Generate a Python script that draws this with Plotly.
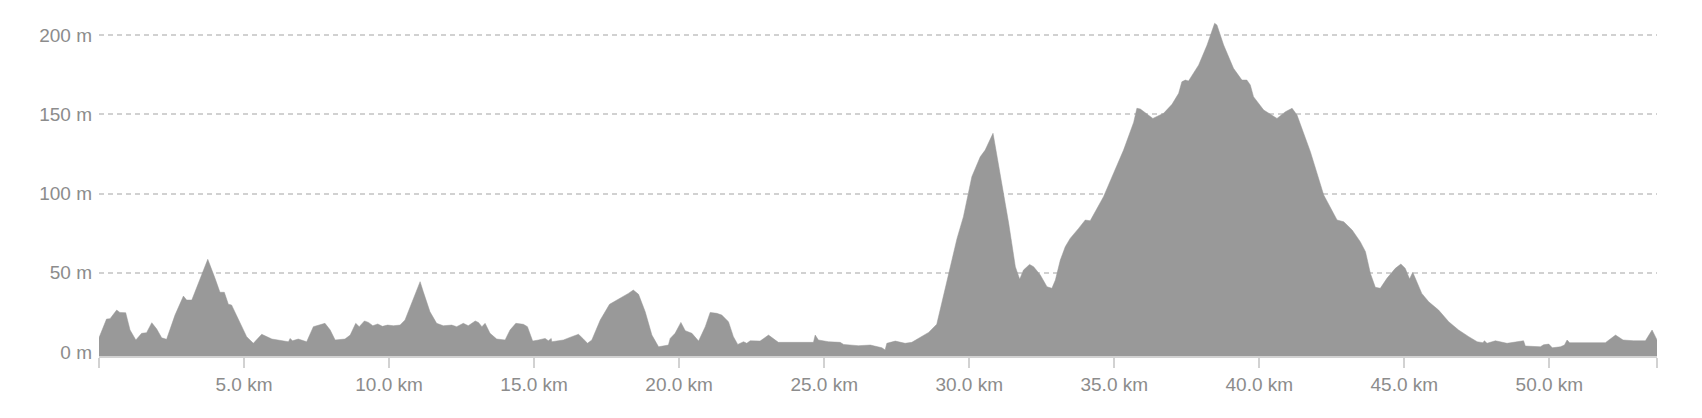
import plotly.graph_objects as go

# distance along route (km) and elevation (m)
distance_km = [
    0.00, 0.26, 0.38, 0.61, 0.72, 0.92, 1.07, 1.27, 1.47, 1.64, 1.82, 1.99, 2.16, 2.33,
    2.62, 2.91, 3.02, 3.20, 3.42, 3.75, 4.00, 4.17, 4.32, 4.46, 4.57, 4.80, 5.09, 5.32,
    5.61, 5.96, 6.41, 6.53, 6.59, 6.67, 6.87, 7.16, 7.39, 7.79, 7.97, 8.14, 8.48, 8.66,
    8.85, 8.97, 9.15, 9.29, 9.44, 9.61, 9.77, 9.95, 10.15, 10.38, 10.55, 10.78, 11.07,
    11.18, 11.41, 11.64, 11.87, 12.16, 12.33, 12.56, 12.73, 12.97, 13.08, 13.20, 13.31,
    13.48, 13.71, 14.00, 14.17, 14.37, 14.63, 14.77, 14.95, 15.15, 15.38, 15.49, 15.59,
    15.61, 16.01, 16.30, 16.53, 16.68, 16.84, 16.99, 17.28, 17.60, 17.97, 18.25, 18.42,
    18.60, 18.83, 19.06, 19.29, 19.46, 19.63, 19.69, 19.86, 20.06, 20.21, 20.44, 20.67,
    20.90, 21.07, 21.30, 21.47, 21.70, 21.87, 22.02, 22.22, 22.33, 22.45, 22.79, 23.08,
    23.42, 24.00, 24.63, 24.69, 24.80, 25.15, 25.55, 25.67, 26.18, 26.59, 26.99, 27.10,
    27.16, 27.45, 27.79, 28.02, 28.25, 28.60, 28.88, 29.11, 29.34, 29.58, 29.80, 30.09,
    30.38, 30.55, 30.82, 31.07, 31.36, 31.59, 31.74, 31.87, 32.08, 32.22, 32.45, 32.68,
    32.85, 32.97, 33.14, 33.31, 33.48, 33.77, 34.00, 34.17, 34.40, 34.63, 34.98, 35.32,
    35.67, 35.78, 35.90, 36.33, 36.70, 36.99, 37.22, 37.33, 37.45, 37.56, 37.91, 38.20,
    38.46, 38.54, 38.77, 39.11, 39.40, 39.57, 39.69, 39.80, 40.15, 40.61, 40.90, 41.13,
    41.30, 41.76, 42.22, 42.68, 42.91, 43.20, 43.48, 43.66, 43.83, 44.00, 44.17, 44.40,
    44.69, 44.88, 45.03, 45.18, 45.29, 45.43, 45.60, 45.84, 46.18, 46.53, 46.87, 47.22,
    47.51, 47.71, 47.76, 47.85, 48.14, 48.54, 49.11, 49.17, 49.69, 49.80, 49.98, 50.10,
    50.38, 50.52, 50.61, 50.70, 50.84, 51.41, 51.93, 52.28, 52.54, 52.91, 53.31, 53.54,
    53.71,
]
elevation_m = [
    9.0, 20.8, 21.0, 26.5, 25.0, 24.8, 13.9, 7.6, 11.8, 12.2, 18.5, 14.5, 9.0, 8.0,
    23.3, 35.3, 32.8, 32.8, 43.3, 58.5, 46.5, 37.7, 37.7, 30.1, 29.7, 21.3, 9.7, 5.5,
    11.2, 8.2, 7.1, 6.5, 8.6, 7.1, 8.2, 6.5, 16.0, 18.1, 13.9, 7.6, 8.2, 10.7,
    18.1, 16.0, 19.6, 18.7, 16.6, 17.7, 16.2, 17.0, 16.6, 17.0, 20.2, 30.7, 44.4,
    38.0, 25.4, 18.1, 16.6, 17.0, 16.0, 18.1, 16.6, 19.6, 18.7, 16.0, 18.1,
    11.8, 8.2, 7.6, 13.9, 18.1, 17.5, 16.0, 6.9, 7.6, 8.6, 7.1, 8.6,
    6.5, 7.6, 9.7, 11.2, 8.6, 5.5, 7.6, 20.2, 30.1, 33.9, 37.0, 39.1,
    36.4, 25.4, 10.7, 3.3, 4.0, 4.4, 8.6, 11.8, 18.7, 13.5, 11.8, 6.9,
    16.0, 25.0, 24.4, 23.3, 19.1, 9.7, 4.8, 6.5, 5.5, 7.1, 6.9, 10.7,
    6.1, 5.9, 6.1, 10.7, 7.6, 6.5, 6.1, 4.8, 4.0, 4.4, 2.7, 1.3,
    5.5, 6.9, 5.5, 6.1, 8.6, 12.4, 17.5, 35.0, 52.8, 71.7, 85.4, 110.6,
    123.2, 127.4, 138.0, 111.7, 81.2, 53.8, 45.9, 51.7, 55.3, 53.8, 48.6, 41.2,
    40.2, 45.4, 58.0, 66.4, 71.7, 78.0, 83.3, 82.8, 90.7, 98.0, 113.0, 127.4,
    145.0, 153.8, 153.3, 147.4, 150.6, 156.3, 163.2, 170.5, 171.6, 171.0, 181.1, 193.7,
    207.4, 206.3, 193.7, 179.0, 171.6, 171.6, 168.5, 161.1, 152.7, 147.4, 151.6, 153.8,
    149.5, 126.4, 99.1, 83.3, 82.2, 77.0, 69.6, 63.3, 49.6, 40.8, 40.2, 46.5,
    52.8, 55.5, 52.8, 46.1, 50.3, 44.4, 37.0, 31.7, 26.5, 19.1, 13.9, 9.7,
    6.5, 5.9, 7.1, 5.5, 7.1, 5.5, 7.1, 3.8, 3.3, 4.6, 5.0, 2.7,
    3.3, 4.4, 7.6, 5.9, 5.9, 5.5, 5.9, 10.7, 7.6, 7.1, 7.1, 13.9,
    7.6,
]

x_tickvals = [0, 5, 10, 15, 20, 25, 30, 35, 40, 45, 50, 53.71]
x_ticktext = ["", "5.0 km", "10.0 km", "15.0 km", "20.0 km", "25.0 km", "30.0 km",
              "35.0 km", "40.0 km", "45.0 km", "50.0 km", ""]
y_tickvals = [0, 50, 100, 150, 200]
y_ticktext = ["0 m", "50 m", "100 m", "150 m", "200 m"]

Y_MIN, Y_MAX = -2.5, 215.8
X_MAX = distance_km[-1]

# close the area down to the bottom of the plot so the fill meets the axis line
poly_x = [distance_km[0]] + distance_km + [distance_km[-1]]
poly_y = [Y_MIN] + elevation_m + [Y_MIN]

fig = go.Figure()
fig.add_trace(go.Scatter(
    x=poly_x, y=poly_y,
    mode="lines",
    fill="toself",
    fillcolor="#999999",
    line=dict(color="#999999", width=0.5),
    hoverinfo="skip",
    showlegend=False,
))

# page body has an 8px margin, so the figure is sized to fit inside it
font_family = "Liberation Sans, Arial, Helvetica, sans-serif"
fig.update_layout(
    width=1686, height=402,
    margin=dict(l=91, r=37, t=2, b=54),
    paper_bgcolor="white",
    plot_bgcolor="white",
    font=dict(family=font_family, size=19, color="#8c8c8c"),
    xaxis=dict(
        range=[0, X_MAX],
        tickvals=x_tickvals, ticktext=x_ticktext,
        showgrid=False, zeroline=False,
        showline=True, linecolor="#d2d2d2", linewidth=2,
        ticks="outside", ticklen=10, tickwidth=2, tickcolor="#d2d2d2",
        layer="above traces",
    ),
    yaxis=dict(
        range=[Y_MIN, Y_MAX],
        tickvals=y_tickvals, ticktext=y_ticktext,
        showgrid=True, gridcolor="rgba(0,0,0,0.18)", gridwidth=2, griddash="5px,4px",
        zeroline=False, showline=False, ticks="",
        ticklabelstandoff=6,
        layer="above traces",
    ),
)

fig.write_html("out.html")
